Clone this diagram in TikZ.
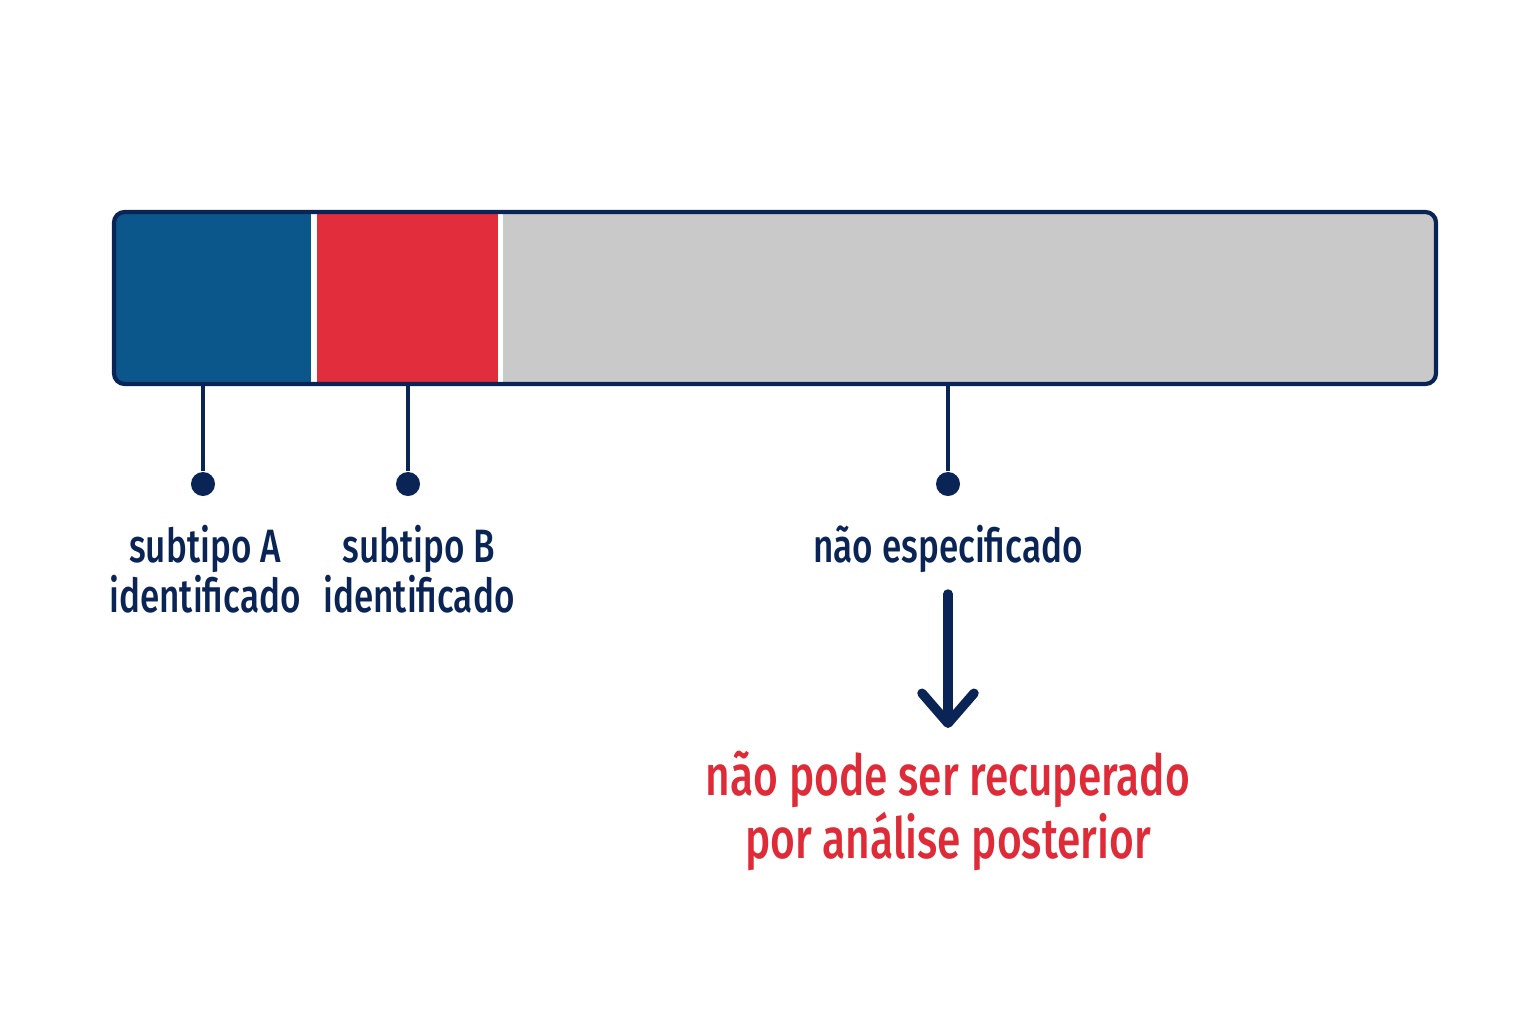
\documentclass[tikz,border=0pt]{standalone}
\usepackage{fontspec}
\setmainfont{Fira Sans Medium}[FakeStretch=0.75]
\usepackage{tikz}
\usetikzlibrary{positioning}
\usetikzlibrary{arrows.meta}
\definecolor{navy}{HTML}{0B2456}
\definecolor{subA}{HTML}{0B568A}
\definecolor{subB}{HTML}{E12D3C}
\definecolor{unspec}{HTML}{C9C9C9}
\definecolor{lost}{HTML}{DF2B38}

\begin{document}
\begin{tikzpicture}[x=0.01cm,y=-0.01cm,
    every node/.style={inner sep=0pt,align=center},
    label/.style={text=navy,font=\fontsize{13.3}{14.2}\selectfont},
    pin/.style={draw=navy,line width=0.9pt},
    dot/.style={circle,fill=navy,minimum size=0.24cm}]
    \useasboundingbox (0,0) rectangle (1536,1024);

    % the bar
    \begin{scope}
        \clip[rounded corners=3pt] (114,212) rectangle (1436,384);
        \fill[subA] (110,210) rectangle (311,390);
        \fill[subB] (317,210) rectangle (498,390);
        \fill[unspec] (503,210) rectangle (1440,390);
    \end{scope}
    \draw[navy,line width=1.2pt,rounded corners=3pt] (114,212) rectangle (1436,384);

    \coordinate (barA) at (203,385);
    \coordinate (barB) at (408,385);
    \coordinate (barN) at (948,385);
    \node (dotA)[dot] at (203,484) {};
    \node (dotB)[dot] at (408,484) {};
    \node (dotN)[dot] at (948,484) {};
    \draw[pin] (barA) -- (dotA);
    \draw[pin] (barB) -- (dotB);
    \draw[pin] (barN) -- (dotN);

    \node (subtipoA)[label] at (205,569) {subtipo A\\identificado};
    \node (subtipoB)[label] at (419,569) {subtipo B\\identificado};
    \node (naoesp)[label] at (948,549) {não especificado};

    \node (perdido)[text=lost,font=\fontsize{16.1}{16}\selectfont] at (948,811) {não pode ser recuperado\\por análise posterior};

    \coordinate (arrowTop) at (948,594);
    \coordinate (arrowEnd) at (948,728);
    \draw[navy,line width=2.7pt,line cap=round,-{Straight Barb[length=0.3cm,width=0.52cm,line cap=round,line join=round]}] (arrowTop) -- (arrowEnd);
\end{tikzpicture}
\end{document}
